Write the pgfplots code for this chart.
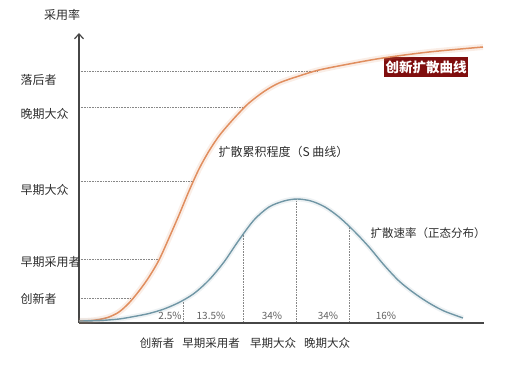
\documentclass[border=0pt]{standalone}
\usepackage{fontspec}
\setmainfont{Noto Sans CJK SC}
\usepackage{pgfplots}
\pgfplotsset{compat=1.18}
\usetikzlibrary{arrows.meta}
\definecolor{sorange}{RGB}{224,142,95}
\definecolor{nblue}{RGB}{112,150,165}
\definecolor{axgray}{RGB}{70,70,70}
\definecolor{dotgray}{RGB}{135,135,135}
\definecolor{boxred}{RGB}{128,14,14}
\definecolor{txt}{RGB}{45,45,45}
\definecolor{pct}{RGB}{95,95,95}
\pgfplotstableread{
x y
0 2
10 2.3
20 3.5
30 6
40 11
50 20
60 32
70 46
80 63
90 85
100 108
110 132
120 154
130 172
140 187
150 199
160 210
170 220
185 231.5
200 240
220 247
240 253
270 259
304 265
350 271
404 276
}\scurve
\pgfplotstableread{
x y
0 2
20 2.4
40 4
55 6.5
70 9.5
85 14
100 20.5
115 29.5
130 43
145 61
160 83
175 103
190 116
205 122
218 124
232 122
246 116
260 106
275 92
290 76
305 58
320 42
335 30
350 20
365 12
384 5
}\bell
\begin{document}
\begin{tikzpicture}
\useasboundingbox (0,0) rectangle (531bp,368bp);
\begin{axis}[at={(0,0)}, anchor=south west, scale only axis,
  width=531bp, height=368bp, xmin=-79, xmax=452, ymin=-45, ymax=323,
  hide axis, clip=false]
% guide lines
\addplot[dotgray, densely dotted, line width=0.6bp] coordinates {(0,252) (239,252)};
\addplot[dotgray, densely dotted, line width=0.6bp] coordinates {(0,216) (164,216)};
\addplot[dotgray, densely dotted, line width=0.6bp] coordinates {(0,142) (114,142)};
\addplot[dotgray, densely dotted, line width=0.6bp] coordinates {(0,64) (81,64)};
\addplot[dotgray, densely dotted, line width=0.6bp] coordinates {(0,25) (55,25)};
\addplot[dotgray, densely dotted, line width=0.6bp] coordinates {(104,0) (104,22)};
\addplot[dotgray, densely dotted, line width=0.6bp] coordinates {(164,0) (164,88)};
\addplot[dotgray, densely dotted, line width=0.6bp] coordinates {(217,0) (217,124)};
\addplot[dotgray, densely dotted, line width=0.6bp] coordinates {(270,0) (270,97)};
% axes
\addplot[axgray, line width=1.2bp, -{Straight Barb[length=5bp,width=9bp]}] coordinates {(0,0) (0,290)};
\addplot[axgray, line width=1.2bp] coordinates {(0,0) (405,0)};
% red label box
\node[fill=boxred, text=white, inner xsep=1.5bp, inner ysep=3bp,
  font=\fontsize{13.5bp}{15bp}\selectfont\bfseries] at (axis cs:347,256) {创新扩散曲线};
% S curve (glow + line)
\addplot[sorange, opacity=0.15, line width=6bp, smooth] table[x=x,y=y] {\scurve};
\addplot[sorange, line width=1.5bp, smooth] table[x=x,y=y] {\scurve};
% bell curve
\addplot[nblue, opacity=0.12, line width=5bp, smooth] table[x=x,y=y] {\bell};
\addplot[nblue, line width=1.4bp, smooth] table[x=x,y=y] {\bell};
% y labels
\node[anchor=west, text=txt, font=\fontsize{12bp}{14bp}\selectfont] at (axis cs:-62,243) {落后者};
\node[anchor=west, text=txt, font=\fontsize{12bp}{14bp}\selectfont] at (axis cs:-62,209) {晚期大众};
\node[anchor=west, text=txt, font=\fontsize{12bp}{14bp}\selectfont] at (axis cs:-62,133) {早期大众};
\node[anchor=west, text=txt, font=\fontsize{12bp}{14bp}\selectfont] at (axis cs:-62,61) {早期采用者};
\node[anchor=west, text=txt, font=\fontsize{12bp}{14bp}\selectfont] at (axis cs:-62,24) {创新者};
\node[text=txt, font=\fontsize{12bp}{14bp}\selectfont] at (axis cs:-17,308) {采用率};
% x labels
\node[text=txt, font=\fontsize{11.5bp}{13bp}\selectfont] at (axis cs:78,-20) {创新者};
\node[text=txt, font=\fontsize{11.5bp}{13bp}\selectfont] at (axis cs:132,-20) {早期采用者};
\node[text=txt, font=\fontsize{11.5bp}{13bp}\selectfont] at (axis cs:194,-20) {早期大众};
\node[text=txt, font=\fontsize{11.5bp}{13bp}\selectfont] at (axis cs:248,-20) {晚期大众};
% percentages
\node[text=pct, font=\fontsize{10bp}{12bp}\selectfont] at (axis cs:91,7) {2.5\%};
\node[text=pct, font=\fontsize{10bp}{12bp}\selectfont] at (axis cs:132,7) {13.5\%};
\node[text=pct, font=\fontsize{10bp}{12bp}\selectfont] at (axis cs:193,7) {34\%};
\node[text=pct, font=\fontsize{10bp}{12bp}\selectfont] at (axis cs:249,7) {34\%};
\node[text=pct, font=\fontsize{10bp}{12bp}\selectfont] at (axis cs:307,7) {16\%};
% annotations
\node[anchor=west, text=txt, font=\fontsize{12bp}{14bp}\selectfont] at (axis cs:136,171) {扩散累积程度（S 曲线）};
\node[anchor=west, text=txt, font=\fontsize{11.5bp}{14bp}\selectfont] at (axis cs:288,90) {扩散速率（正态分布）};
\end{axis}
\end{tikzpicture}
\end{document}
